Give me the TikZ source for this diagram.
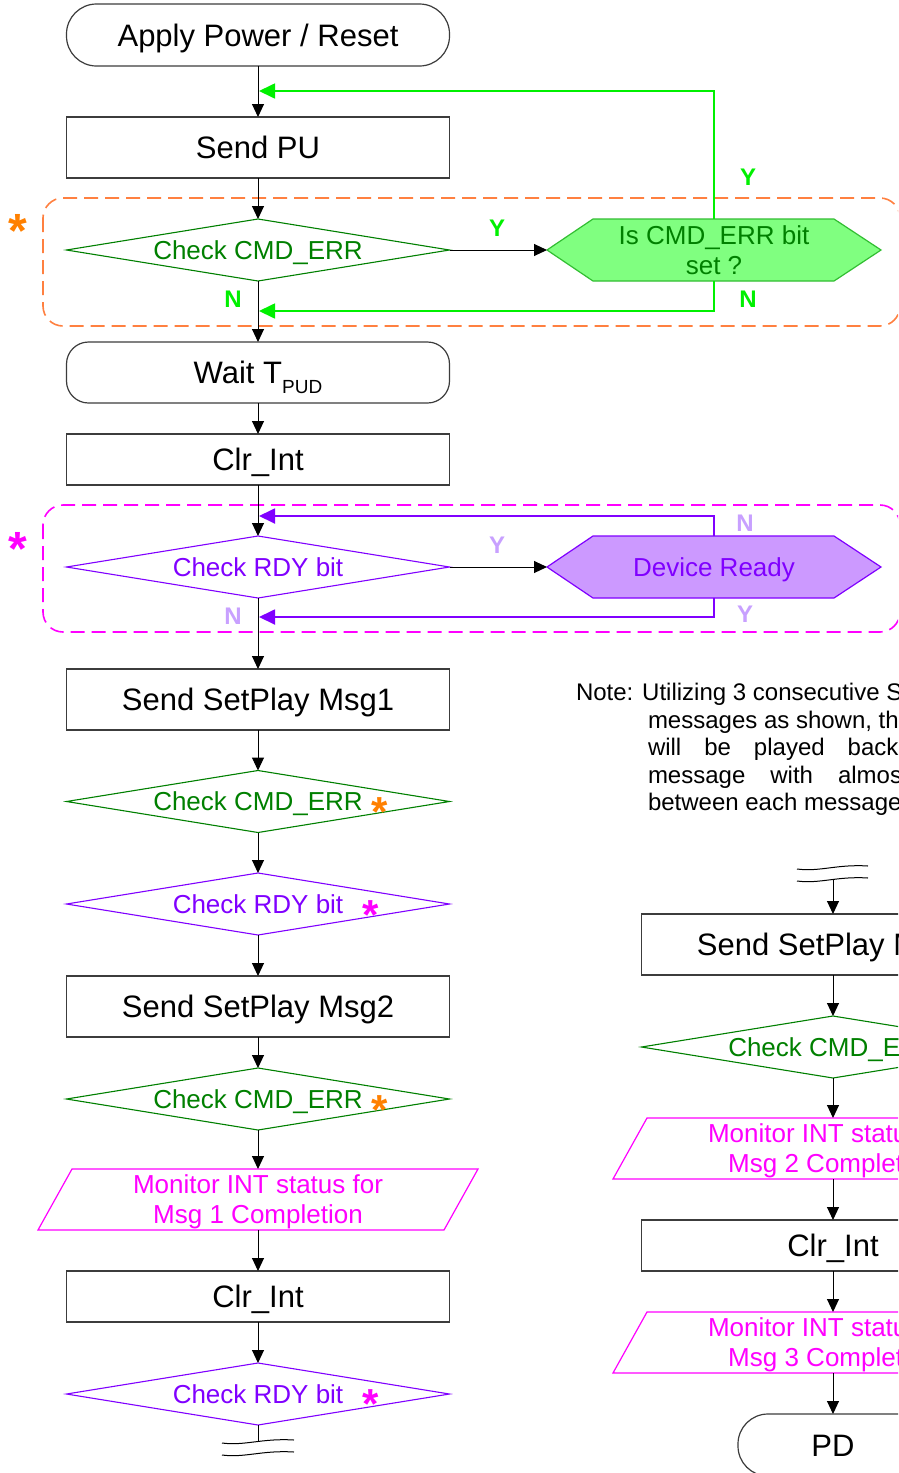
\documentclass[tikz,border=0pt]{standalone}
\usepackage{fontspec}
\setmainfont{Liberation Sans}
\usetikzlibrary{arrows.meta,calc,backgrounds,shapes.geometric}

\definecolor{cmdgreen}{RGB}{0,128,0}
\definecolor{brightgreen}{RGB}{0,240,0}
\definecolor{hexgreen}{RGB}{128,255,128}
\definecolor{hexgreenline}{RGB}{50,190,50}
\definecolor{orangedash}{RGB}{255,128,64}
\definecolor{orangestar}{RGB}{255,128,0}
\definecolor{magentac}{RGB}{255,0,255}
\definecolor{violetc}{RGB}{128,0,255}
\definecolor{lightviolet}{RGB}{200,160,255}
\definecolor{hexviolet}{RGB}{204,153,255}
\definecolor{boxline}{RGB}{60,60,60}

\begin{document}
\begin{tikzpicture}[x=1pt,y=-1pt,
  every node/.style={inner sep=0pt, outer sep=0pt},
  bigtxt/.style={font=\fontsize{31}{36}\selectfont, text height=22pt, text depth=0pt},
  procbox/.style={draw=boxline, line width=1.2pt, minimum width=383pt, bigtxt},
  termbox/.style={draw=boxline, line width=1.2pt, rounded corners=30pt, minimum width=383pt, minimum height=62pt, bigtxt},
  decision/.style={diamond, aspect=6.18, minimum width=383pt, minimum height=62pt, line width=1.1pt, font=\fontsize{26}{30}\selectfont, text height=18.6pt, text depth=0pt},
  cmddec/.style={decision, draw=cmdgreen, text=cmdgreen},
  rdydec/.style={decision, draw=violetc, text=violetc},
  hexnode/.style={minimum width=334pt, minimum height=62pt, font=\fontsize{26}{30}\selectfont, align=center, text depth=0pt},
  monnode/.style={minimum width=372pt, minimum height=61pt, font=\fontsize{26}{30}\selectfont, align=center, text depth=0pt, text=magentac},
  monshape/.style={draw=magentac, line width=1.2pt},
  arr/.style={draw=black, line width=1pt, -{Triangle[length=13pt,width=12pt]}},
  plainline/.style={draw=black, line width=1pt},
  greenfb/.style={draw=brightgreen, line width=1.7pt, -{Triangle[length=16pt,width=15pt]}},
  violetfb/.style={draw=violetc, line width=1.8pt, -{Triangle[length=16pt,width=15pt]}},
  greenlab/.style={font=\bfseries\fontsize{24}{24}\selectfont, text height=17pt, text depth=0pt, text=brightgreen},
  violetlab/.style={font=\bfseries\fontsize{24}{24}\selectfont, text height=17pt, text depth=0pt, text=lightviolet},
  bigstar/.style={font=\bfseries\fontsize{48}{48}\selectfont, anchor=base},
  smallstar/.style={font=\bfseries\fontsize{42}{42}\selectfont, anchor=base},
  notetxt/.style={font=\fontsize{24}{27.5}\selectfont, anchor=base west},
  dashbox/.style={line width=1.6pt, dash pattern=on 14pt off 7pt, rounded corners=20pt},
  wave/.style={draw=black, line width=1pt}
]
\useasboundingbox (0,0) rectangle (898,1473);
\clip (0,0) rectangle (898,1473);

% dashed groups
\draw[dashbox, draw=orangedash] (43,198) rectangle (900,326);
\draw[dashbox, draw=magentac] (43,505) rectangle (900,632);

% ---------- left column ----------
\node[termbox] (start) at (258,35) {Apply Power / Reset};
\node[procbox, minimum height=61pt] (sendpu) at (258,147.5) {Send PU};
\node[cmddec] (chk1) at (258,250) {Check CMD\_ERR};
\node[hexnode, text=cmdgreen] (iserr) at (714,250) {Is CMD\_ERR bit\\set ?};
\node[draw=boxline, line width=1.2pt, rounded corners=22pt, minimum width=383pt, minimum height=61pt, bigtxt] (wait) at (258,372.5) {Wait T\raisebox{-10pt}{\fontsize{19}{22}\selectfont PUD}};
\node[procbox, minimum height=51pt] (clr1) at (258,459.5) {Clr\_Int};
\node[rdydec] (rdy1) at (258,567) {Check RDY bit};
\node[hexnode, text=violetc, text height=18.6pt] (devrdy) at (714,567) {Device Ready};
\node[procbox, minimum height=61pt] (msg1) at (258,699.5) {Send SetPlay Msg1};
\node[cmddec] (chk2) at (258,801.5) {Check CMD\_ERR};
\node[rdydec] (rdy2) at (258,904) {Check RDY bit};
\node[procbox, minimum height=61pt] (msg2) at (258,1006.5) {Send SetPlay Msg2};
\node[cmddec] (chk3) at (258,1099) {Check CMD\_ERR};
\node[monnode] (mon1) at (258,1199.5) {Monitor INT status for\\Msg 1 Completion};
\node[procbox, minimum height=51pt] (clr2) at (258,1296.5) {Clr\_Int};
\node[rdydec] (rdy3) at (258,1394) {Check RDY bit};

% white page and hexagon backgrounds
\begin{scope}[on background layer]
\fill[white] (0,0) rectangle (898,1473);
\filldraw[fill=hexgreen, draw=hexgreenline, line width=1.2pt]
  (iserr.west) -- ($(iserr.north west)+(46,0)$) -- ($(iserr.north east)+(-47,0)$) -- (iserr.east)
  -- ($(iserr.south east)+(-47,0)$) -- ($(iserr.south west)+(46,0)$) -- cycle;
\filldraw[fill=hexviolet, draw=violetc, line width=1.2pt]
  (devrdy.west) -- ($(devrdy.north west)+(46,0)$) -- ($(devrdy.north east)+(-47,0)$) -- (devrdy.east)
  -- ($(devrdy.south east)+(-47,0)$) -- ($(devrdy.south west)+(46,0)$) -- cycle;
\end{scope}

% parallelogram outlines
\draw[monshape] (mon1.north west) -- ($(mon1.north east)+(34,0)$) -- (mon1.south east) -- ($(mon1.south west)+(-34,0)$) -- cycle;

% ---------- right column ----------
\node[procbox, minimum height=61pt] (msg3) at (833,944.5) {Send SetPlay Msg3};
\node[cmddec] (chk4) at (833,1047) {Check CMD\_ERR};
\node[monnode] (mon2) at (833,1148.5) {Monitor INT status for\\Msg 2 Completion};
\node[procbox, minimum height=51pt] (clr3) at (833,1245.5) {Clr\_Int};
\node[monnode] (mon3) at (833,1342.5) {Monitor INT status for\\Msg 3 Completion};
\node[termbox, minimum width=190pt] (pd) at (833,1445) {PD};
\draw[monshape] (mon2.north west) -- ($(mon2.north east)+(34,0)$) -- (mon2.south east) -- ($(mon2.south west)+(-34,0)$) -- cycle;
\draw[monshape] (mon3.north west) -- ($(mon3.north east)+(34,0)$) -- (mon3.south east) -- ($(mon3.south west)+(-34,0)$) -- cycle;

% ---------- note ----------
\node[notetxt] (n1) at (576,700.5) {Note: Utilizing 3 consecutive SetPlay};
\node[notetxt] (n2) at (648,728) {messages as shown, the messages};
\node[notetxt] (n3) at (648,755.5) {will\hspace{23pt}be\hspace{23pt}played\hspace{23pt}back\hspace{23pt}to back};
\node[notetxt] (n4) at (648,783) {message\hspace{25pt}with\hspace{25pt}almost\hspace{25pt}no gap};
\node[notetxt] (n5) at (648,810.5) {between each message.};

% ---------- junction / break coordinates ----------
\coordinate (j1) at (259,91);
\coordinate (j2) at (259,311);
\coordinate (j3) at (259,516);
\coordinate (j4) at (259,617);
\coordinate (brk1) at (258,1442);
\coordinate (brk2) at (833,880);

% ---------- connectors ----------
\draw[arr] (start) -- (sendpu);
\draw[arr] (sendpu) -- (chk1);
\draw[arr] (chk1) -- (wait);
\draw[arr] (chk1.east) -- (iserr.west);
\draw[greenfb] (iserr.north) |- (j1);
\draw[greenfb] (iserr.south) |- (j2);
\draw[arr] (wait) -- (clr1);
\draw[arr] (clr1) -- (rdy1);
\draw[arr] (rdy1.east) -- (devrdy.west);
\draw[violetfb] (devrdy.north) |- (j3);
\draw[violetfb] (devrdy.south) |- (j4);
\draw[arr] (rdy1) -- (msg1);
\draw[arr] (msg1) -- (chk2);
\draw[arr] (chk2) -- (rdy2);
\draw[arr] (rdy2) -- (msg2);
\draw[arr] (msg2) -- (chk3);
\draw[arr] (chk3) -- (mon1);
\draw[arr] (mon1) -- (clr2);
\draw[arr] (clr2) -- (rdy3);
\draw[plainline] (rdy3) -- (brk1);

\draw[arr] (brk2) -- (msg3);
\draw[arr] (msg3) -- (chk4);
\draw[arr] (chk4) -- (mon2);
\draw[arr] (mon2) -- (clr3);
\draw[arr] (clr3) -- (mon3);
\draw[arr] (mon3) -- (pd);

% break symbols
\draw[wave] (222,1443) .. controls (245,1446) and (262,1438) .. (294,1440);
\draw[wave] (222,1455) .. controls (245,1458) and (262,1450) .. (294,1452);
\draw[wave] (797,869) .. controls (820,872) and (837,864) .. (868,866);
\draw[wave] (797,881) .. controls (820,884) and (837,876) .. (868,878);

% ---------- Y / N labels ----------
\node[greenlab] (ly1) at (497,228) {Y};
\node[greenlab] (ly2) at (748,177) {Y};
\node[greenlab] (ln1) at (748,299) {N};
\node[greenlab] (ln2) at (233,299) {N};
\node[violetlab] (ly3) at (497,545) {Y};
\node[violetlab] (ln3) at (745,523) {N};
\node[violetlab] (ly4) at (745,614) {Y};
\node[violetlab] (ln4) at (233,616) {N};

% ---------- asterisks ----------
\node[bigstar, text=orangestar] (s1) at (18,247) {*};
\node[bigstar, text=magentac] (s2) at (18,565) {*};
\node[smallstar, text=orangestar] (s3) at (380,826) {*};
\node[smallstar, text=magentac] (s4) at (371,929) {*};
\node[smallstar, text=orangestar] (s5) at (380,1124) {*};
\node[smallstar, text=magentac] (s6) at (371,1418) {*};
\end{tikzpicture}
\end{document}
